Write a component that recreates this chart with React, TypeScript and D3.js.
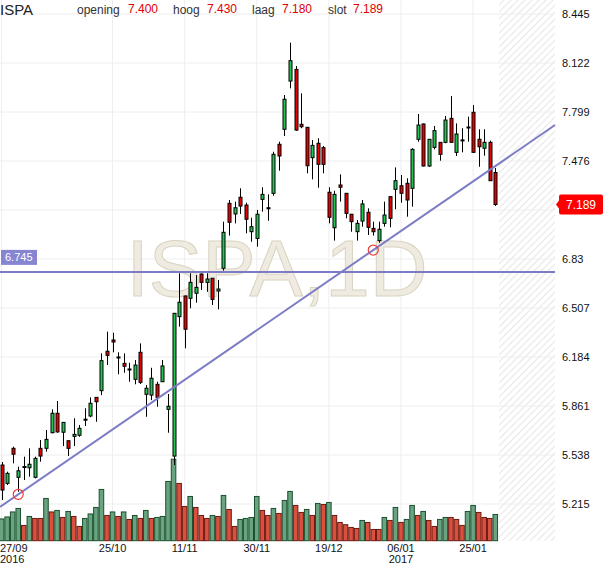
import * as d3 from "d3";

// daily candles, ISPA 27/09/2016 - 31/01/2017
const opens = [
  5.472, 5.351, 5.582, 5.391, 5.458, 5.454, 5.391, 5.582, 5.582, 5.685,
  5.813, 5.688, 5.632, 5.661, 5.668, 5.77, 5.795, 5.918, 5.962, 6.222,
  6.296, 6.184, 6.142, 6.105, 6.037, 6.215, 5.938, 5.933, 6.004, 6.021,
  5.839, 5.531, 6.45, 6.586, 6.571, 6.604, 6.731, 6.676, 6.703, 6.619,
  6.769, 7.197, 7.127, 7.237, 7.186, 7.01, 6.966, 7.223, 7.168, 7.263,
  7.586, 7.685, 8.003, 8.08, 7.718, 7.698, 7.498, 7.593, 7.564, 7.27,
  7.036, 7.318, 7.263, 7.125, 7.01, 7.08, 7.138, 7.032, 6.951, 7.065,
  7.241, 7.289, 7.313, 7.329, 7.296, 7.619, 7.72, 7.443, 7.566, 7.599,
  7.599, 7.757, 7.533, 7.612, 7.696, 7.797, 7.619, 7.56, 7.599, 7.4,
];
const highs = [
  5.492, 5.428, 5.593, 5.461, 5.527, 5.582, 5.527, 5.637, 5.703, 5.839,
  5.894, 5.755, 5.634, 5.78, 5.736, 5.846, 5.918, 5.92, 6.208, 6.351,
  6.344, 6.215, 6.208, 6.146, 6.164, 6.274, 5.999, 6.113, 6.021, 6.164,
  5.94, 6.474, 6.736, 6.59, 6.736, 6.724, 6.735, 6.736, 6.705, 6.692,
  7.076, 7.219, 7.208, 7.296, 7.201, 7.102, 7.153, 7.303, 7.256, 7.537,
  7.603, 7.911, 8.256, 8.102, 7.922, 7.7, 7.614, 7.626, 7.575, 7.303,
  7.28, 7.388, 7.265, 7.127, 7.087, 7.219, 7.164, 7.076, 7.076, 7.208,
  7.242, 7.434, 7.384, 7.362, 7.56, 7.786, 7.723, 7.621, 7.707, 7.601,
  7.773, 7.904, 7.724, 7.692, 7.768, 7.845, 7.685, 7.685, 7.61, 7.43,
];
const lows = [
  5.241, 5.34, 5.483, 5.296, 5.373, 5.395, 5.384, 5.494, 5.56, 5.681,
  5.685, 5.597, 5.531, 5.597, 5.658, 5.729, 5.787, 5.757, 5.933, 6.131,
  6.215, 6.07, 6.08, 6.021, 6.004, 6.006, 5.79, 5.9, 5.856, 6.021,
  5.685, 5.472, 6.384, 6.241, 6.505, 6.542, 6.626, 6.614, 6.527, 6.498,
  6.753, 6.984, 7.065, 7.127, 6.999, 6.944, 6.911, 7.142, 7.082, 7.247,
  7.412, 7.641, 7.955, 7.675, 7.692, 7.395, 7.355, 7.3, 7.395, 7.065,
  6.951, 7.208, 7.098, 7.01, 6.951, 7.043, 6.988, 6.984, 6.937, 7.043,
  7.039, 7.158, 7.201, 7.109, 7.175, 7.603, 7.44, 7.437, 7.553, 7.478,
  7.593, 7.598, 7.509, 7.533, 7.603, 7.532, 7.438, 7.511, 7.344, 7.18,
];
const closes = [
  5.307, 5.417, 5.543, 5.434, 5.462, 5.477, 5.516, 5.531, 5.641, 5.813,
  5.69, 5.753, 5.582, 5.674, 5.714, 5.774, 5.879, 5.889, 6.16, 6.195,
  6.283, 6.182, 6.123, 6.102, 6.131, 6.017, 5.978, 6.044, 5.918, 6.125,
  5.859, 6.472, 6.545, 6.367, 6.676, 6.643, 6.676, 6.698, 6.564, 6.632,
  7.006, 7.072, 7.168, 7.179, 7.092, 7.043, 7.125, 7.256, 7.166, 7.52,
  7.509, 7.883, 8.137, 7.68, 7.702, 7.445, 7.579, 7.454, 7.454, 7.105,
  7.256, 7.303, 7.131, 7.076, 7.065, 7.193, 7.039, 7.01, 7.026, 7.12,
  7.098, 7.346, 7.263, 7.219, 7.553, 7.713, 7.443, 7.619, 7.676, 7.52,
  7.746, 7.599, 7.654, 7.615, 7.7, 7.533, 7.57, 7.599, 7.346, 7.189,
];
// volume in millions of shares
const volumes = [
  87, 95, 115, 129, 61, 97, 89, 89, 169, 115,
  121, 93, 117, 97, 57, 89, 107, 133, 205, 101,
  115, 97, 115, 85, 101, 89, 121, 89, 93, 97,
  237, 326, 229, 137, 177, 133, 101, 89, 101, 97,
  181, 125, 57, 85, 89, 93, 177, 121, 101, 129,
  109, 161, 197, 141, 113, 125, 101, 149, 145, 153,
  101, 73, 64, 53, 49, 81, 73, 45, 45, 93,
  81, 133, 73, 85, 141, 101, 117, 81, 57, 85,
  93, 93, 85, 61, 117, 141, 113, 93, 89, 105,
];
// 1 = green volume bar, 0 = red
const volumeUp = [
  1, 1, 1, 1, 0, 1, 0, 0, 1, 0,
  1, 0, 1, 0, 0, 1, 1, 1, 1, 0,
  1, 0, 1, 0, 1, 0, 1, 0, 1, 1,
  1, 1, 0, 0, 1, 0, 0, 0, 1, 0,
  1, 0, 0, 1, 1, 1, 1, 0, 0, 1,
  0, 1, 1, 0, 0, 1, 0, 1, 0, 1,
  0, 0, 0, 0, 0, 1, 0, 0, 0, 1,
  0, 1, 0, 1, 1, 0, 1, 0, 0, 1,
  1, 0, 0, 0, 1, 1, 0, 0, 0, 1,
];

const dateTickIndex = [0, 20, 33, 46, 59, 72, 85];
const dateTickLabels = ["27/09", "25/10", "11/11", "30/11", "19/12", "06/01", "25/01"];
const dateTickYears = ["2016", "", "", "", "", "2017", ""];
const priceTicks = ["8.445", "8.122", "7.799", "7.476", "7.153", "6.83", "6.507", "6.184", "5.861", "5.538", "5.215"];

const symbol = "ISPA";
const headerLabels = ["opening", "hoog", "laag", "slot"];
const levelPrice = 6.745;
const trendIndex = [3, 67];
const trendPrice = [5.279, 6.889];

const FONT = "'Liberation Sans', Arial, sans-serif";
const PLOT_R = 555;
const BASE = 540.7;
const STEP = 5.547;

export default function App() {
  const n = closes.length;
  const x = d3.scaleLinear().domain([0, n - 1]).range([1.6, 1.6 + (n - 1) * STEP]);
  const y = d3.scaleLinear().domain([5.215, 8.445]).range([504, 14]);
  const yv = d3.scaleLinear().domain([0, 400]).range([BASE, BASE - 100]);

  const trend = d3
    .scaleLinear()
    .domain([x(trendIndex[0]), x(trendIndex[1])])
    .range([y(trendPrice[0]), y(trendPrice[1])]);
  const trendPath = d3.line()([
    [0, trend(0)],
    [PLOT_R, trend(PLOT_R)],
  ]);

  const last = n - 1;
  const headerValues = [opens[last], highs[last], lows[last], closes[last]];
  const headerX = [77, 173, 252, 328];
  const headerValX = [128, 207, 282, 353];

  const lastY = y(closes[last]);
  // the last-price tag hides any axis label it sits on
  const axisLabels = priceTicks.filter((t) => Math.abs(y(+t) - lastY) > 12);

  return (
    <div style={{ position: "absolute", left: 0, top: 0 }}>
      <svg width={610} height={568} style={{ display: "block", background: "#fff" }}>
        <defs>
          <pattern id="hatch" patternUnits="userSpaceOnUse" width={7} height={7}>
            <path d="M-1,1 L1,-1 M0,7 L7,0 M6,8 L8,6" stroke="#ebebeb" strokeWidth={1.3} />
          </pattern>
        </defs>

        <rect x={499} y={0} width={PLOT_R - 499} height={BASE} fill="url(#hatch)" />

        {priceTicks.map((t) => (
          <line key={t} x1={0} x2={PLOT_R} y1={y(+t)} y2={y(+t)} stroke="#eeeeee" />
        ))}
        {dateTickIndex.map((i) => (
          <line key={i} x1={x(i)} x2={x(i)} y1={0} y2={BASE} stroke="#eeeeee" />
        ))}

        <text
          x={277}
          y={296}
          textAnchor="middle"
          fontFamily={FONT}
          fontSize={80}
          fill="#efebe1"
          stroke="#d9d3c1"
          strokeWidth={1}
        >
          {symbol},1D
        </text>

        {volumes.map((v, i) => (
          <rect
            key={i}
            x={x(i) - (STEP - 1) / 2}
            y={yv(v)}
            width={STEP - 1}
            height={BASE - yv(v)}
            fill={volumeUp[i] ? "#68a47f" : "#d9503e"}
            stroke={volumeUp[i] ? "#1c4f2f" : "#6a1a12"}
            strokeWidth={1}
          />
        ))}

        {closes.map((c, i) => {
          const o = opens[i];
          const up = c >= o;
          const top = y(Math.max(o, c));
          const h = Math.max(Math.abs(y(o) - y(c)), 1);
          const cx = Math.round(x(i)) + 0.5;
          return (
            <g key={i}>
              <line x1={cx} x2={cx} y1={y(highs[i])} y2={y(lows[i])} stroke="#000" strokeWidth={1} />
              <rect
                x={cx - 1.5}
                y={top}
                width={3}
                height={h}
                fill={up ? "#25c552" : "#e80000"}
                stroke="#000"
                strokeWidth={1}
              />
            </g>
          );
        })}

        <line x1={0} x2={PLOT_R} y1={y(levelPrice)} y2={y(levelPrice)} stroke="#7c7cc6" strokeWidth={2} />
        <path d={trendPath ?? ""} stroke="#7c7cc6" strokeWidth={2} fill="none" />
        {trendIndex.map((ti, k) => (
          <circle
            key={ti}
            cx={x(ti)}
            cy={y(trendPrice[k])}
            r={5}
            fill="none"
            stroke="#f03c3c"
            strokeWidth={1.2}
          />
        ))}

        <rect x={1} y={y(levelPrice) - 22} width={36} height={15} fill="#8585d2" />
        <text x={5} y={y(levelPrice) - 10.5} fontFamily={FONT} fontSize={11} fill="#fff">
          {levelPrice.toFixed(3)}
        </text>

        {axisLabels.map((t) => (
          <text key={t} x={562} y={y(+t) + 4} fontFamily={FONT} fontSize={11} fill="#111">
            {t}
          </text>
        ))}

        <path
          d={`M556,${lastY} L559,${lastY - 4} L559,${lastY - 8} Q559,${lastY - 10} 561,${lastY - 10}
              L601,${lastY - 10} Q603,${lastY - 10} 603,${lastY - 8} L603,${lastY + 8}
              Q603,${lastY + 10} 601,${lastY + 10} L561,${lastY + 10} Q559,${lastY + 10} 559,${lastY + 8}
              L559,${lastY + 4} Z`}
          fill="#ff0000"
        />
        <text x={566} y={lastY + 4} fontFamily={FONT} fontSize={12} fill="#fff">
          {closes[last].toFixed(3)}
        </text>

        {dateTickIndex.map((i, k) => {
          const px = x(i);
          const anchor = px < 15 ? "start" : "middle";
          const tx = px < 15 ? 0 : px;
          return (
            <g key={i}>
              <text x={tx} y={552} textAnchor={anchor} fontFamily={FONT} fontSize={11} fill="#111">
                {dateTickLabels[k]}
              </text>
              {dateTickYears[k] && (
                <text x={tx} y={563} textAnchor={anchor} fontFamily={FONT} fontSize={11} fill="#111">
                  {dateTickYears[k]}
                </text>
              )}
            </g>
          );
        })}

        <text x={0} y={15} fontFamily={FONT} fontSize={15} fill="#222">
          {symbol}
        </text>
        {headerLabels.map((l, k) => (
          <g key={l}>
            <text x={headerX[k]} y={14} fontFamily={FONT} fontSize={12} fill="#333">
              {l}
            </text>
            <text x={headerValX[k]} y={13} fontFamily={FONT} fontSize={12} fill="#e00000">
              {headerValues[k].toFixed(3)}
            </text>
          </g>
        ))}
      </svg>
    </div>
  );
}
